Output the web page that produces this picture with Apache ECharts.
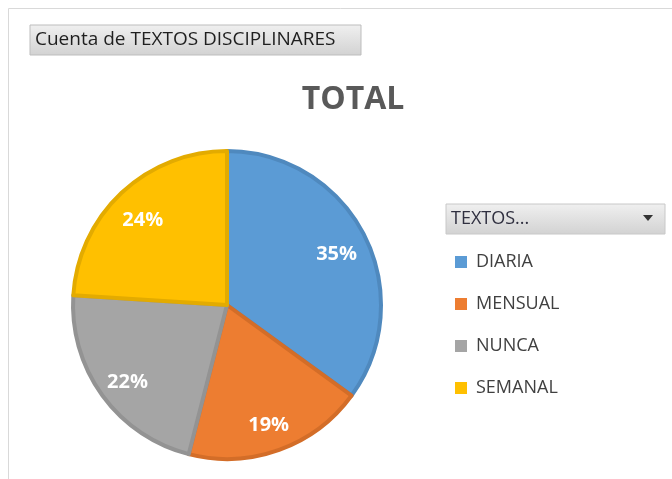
<!DOCTYPE html>
<html>
<head>
<meta charset="utf-8">
<script src="https://cdn.jsdelivr.net/npm/echarts@6/dist/echarts.min.js"></script>
<style>
  html, body { margin: 0; padding: 0; background: #fff; }
  #chart { width: 672px; height: 479px; }
</style>
</head>
<body>
<div id="chart"></div>
<script>
// datos del gráfico
const categorias = ['DIARIA', 'MENSUAL', 'NUNCA', 'SEMANAL'];
const valores = [35, 19, 22, 24];
const colores = ['#5B9BD5', '#ED7D31', '#A5A5A5', '#FFC000'];
const bordes = ['#4f89be', '#d36d28', '#939393', '#e3ab00'];

const chart = echarts.init(document.getElementById('chart'));

const datos = categorias.map(function (c, i) {
    return { name: c, value: valores[i], itemStyle: { color: colores[i], borderColor: bordes[i] } };
});

const grisBoton = new echarts.graphic.LinearGradient(0, 0, 0, 1, [
    { offset: 0, color: '#f0f0f0' },
    { offset: 1, color: '#d2d2d2' }
]);

chart.setOption({
    animation: false,
    title: {
        text: 'TOTAL',
        left: 348,
        top: 79,
        textAlign: 'center',
        textStyle: { fontFamily: 'Open Sans', fontWeight: 'bold', fontSize: 32, color: '#595959' }
    },
    legend: {
        orient: 'vertical',
        left: 450,
        top: 248,
        itemGap: 24,
        icon: 'rect',
        itemWidth: 12,
        itemHeight: 12,
        itemStyle: { borderWidth: 0 },
        data: categorias,
        textStyle: { fontFamily: 'Open Sans', fontSize: 18, color: '#404040', padding: [0, 0, 0, 4] }
    },
    graphic: [
        { type: 'rect', shape: { x: 8.5, y: 8.5, width: 700, height: 500 }, style: { fill: 'none', stroke: '#d9d9d9', lineWidth: 1 }, silent: true },
        { type: 'rect', shape: { x: 30, y: 25, width: 331, height: 30 }, style: { fill: grisBoton, stroke: '#bdbdbd', lineWidth: 1 }, silent: true },
        { type: 'text', x: 35, y: 40, style: { text: 'Cuenta de TEXTOS DISCIPLINARES', fontFamily: 'Open Sans', fontSize: 19, fill: '#1f1f1f', verticalAlign: 'middle' }, silent: true },
        { type: 'rect', shape: { x: 446, y: 204, width: 219, height: 30 }, style: { fill: grisBoton, stroke: '#c8c8c8', lineWidth: 1 }, silent: true },
        { type: 'text', x: 451, y: 219, style: { text: 'TEXTOS...', fontFamily: 'Open Sans', fontSize: 18, fill: '#303040', verticalAlign: 'middle' }, silent: true },
        { type: 'polygon', shape: { points: [[643, 215], [653, 215], [648, 221]] }, style: { fill: '#333' }, silent: true }
    ],
    series: [{
        type: 'pie',
        center: [227, 305],
        radius: [0, 154],
        startAngle: 90,
        clockwise: true,
        itemStyle: { borderWidth: 4 },
        label: { show: false },
        labelLine: { show: false },
        data: datos
    }, {
        // serie transparente solo para situar las etiquetas más hacia fuera
        type: 'pie',
        center: [227, 305],
        radius: [0, 240],
        startAngle: 90,
        clockwise: true,
        silent: true,
        legendHoverLink: false,
        itemStyle: { color: 'rgba(0,0,0,0)', borderWidth: 0 },
        label: {
            show: true,
            position: 'inside',
            formatter: '{d}%',
            offset: [0, 5],
            fontFamily: 'Open Sans',
            fontWeight: 'bold',
            fontSize: 20,
            color: '#fff'
        },
        labelLine: { show: false },
        data: categorias.map(function (c, i) { return { name: c, value: valores[i] }; })
    }]
});
</script>
</body>
</html>
